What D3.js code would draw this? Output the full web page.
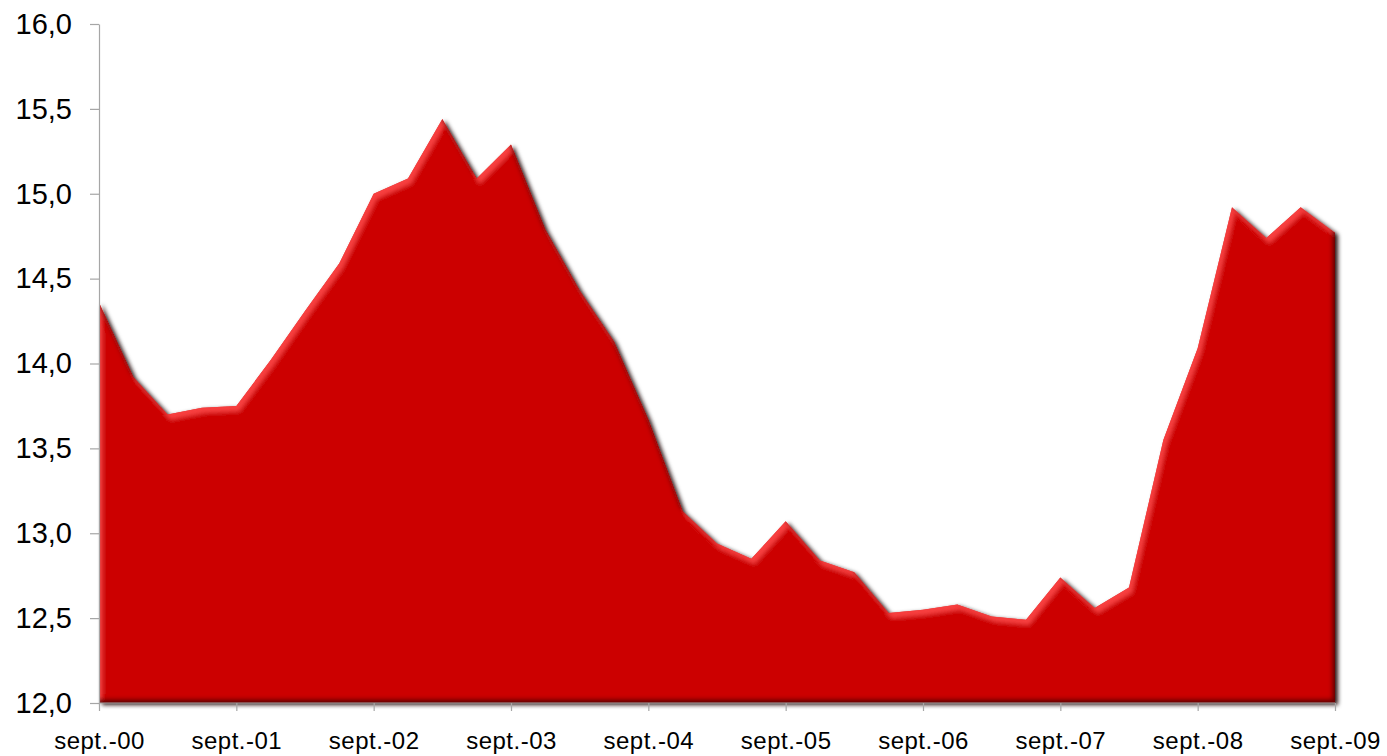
<!DOCTYPE html>
<html lang="fr">
<head>
  <meta charset="UTF-8">
  <title>Area chart</title>
  <style>
    body { margin: 0; background: #fff; }
    svg { display: block; }
    .axis text { font-family: "Liberation Sans", Arial, sans-serif; fill: #000; }
    .axis path, .axis line { stroke: #a6a6a6; stroke-width: 1.2; }
  </style>
</head>
<body>

  <section class="plot"></section>

  <script src="https://cdn.jsdelivr.net/npm/d3@7"></script>
  <script>
    // Data (quarterly)
    const quarters = [
      "sept.-00", "déc.-00", "mars-01", "juin-01",
      "sept.-01", "déc.-01", "mars-02", "juin-02",
      "sept.-02", "déc.-02", "mars-03", "juin-03",
      "sept.-03", "déc.-03", "mars-04", "juin-04",
      "sept.-04", "déc.-04", "mars-05", "juin-05",
      "sept.-05", "déc.-05", "mars-06", "juin-06",
      "sept.-06", "déc.-06", "mars-07", "juin-07",
      "sept.-07", "déc.-07", "mars-08", "juin-08",
      "sept.-08", "déc.-08", "mars-09", "juin-09",
      "sept.-09"
    ];
    const values = [
      14.36, 13.92, 13.70, 13.74,
      13.75, 14.02, 14.31, 14.59,
      15.00, 15.09, 15.44, 15.09,
      15.29, 14.79, 14.43, 14.13,
      13.67, 13.13, 12.94, 12.85,
      13.07, 12.84, 12.77, 12.53,
      12.55, 12.58, 12.51, 12.49,
      12.74, 12.56, 12.68, 13.55,
      14.09, 14.92, 14.74, 14.92,
      14.77
    ];
    const xTickLabels = ["sept.-00", "sept.-01", "sept.-02", "sept.-03", "sept.-04",
                         "sept.-05", "sept.-06", "sept.-07", "sept.-08", "sept.-09"];
    const yTicks = [12.0, 12.5, 13.0, 13.5, 14.0, 14.5, 15.0, 15.5, 16.0];

    const data = quarters.map((q, i) => ({ label: q, value: values[i] }));

    const _size = { width: 1387, height: 756 };
    const _margin = { left: 99, top: 24, right: 52, bottom: 53 };
    const innerW = _size.width - _margin.left - _margin.right;
    const innerH = _size.height - _margin.top - _margin.bottom;

    const svg = d3.select(".plot")
      .append("svg")
        .attr("width", _size.width)
        .attr("height", _size.height);

    // bevel filter (light from upper left)
    const defs = svg.append("defs");
    const f = defs.append("filter").attr("id", "bevel")
      .attr("x", "-2%").attr("y", "-5%").attr("width", "104%").attr("height", "110%");
    f.append("feGaussianBlur").attr("in", "SourceAlpha").attr("stdDeviation", 2).attr("result", "blur");
    // outer shadow
    f.append("feOffset").attr("in", "blur").attr("dx", 2.5).attr("dy", 1.5).attr("result", "dropOff");
    f.append("feFlood").attr("flood-color", "#1a0000").attr("flood-opacity", 0.9).attr("result", "dropCol");
    f.append("feComposite").attr("in", "dropCol").attr("in2", "dropOff").attr("operator", "in").attr("result", "drop");
    // highlight band along top-left facing edges
    f.append("feOffset").attr("in", "blur").attr("dx", 3).attr("dy", 5).attr("result", "bDown");
    f.append("feComposite").attr("in", "SourceAlpha").attr("in2", "bDown")
      .attr("operator", "arithmetic").attr("k1", 0).attr("k2", 1).attr("k3", -1).attr("k4", 0).attr("result", "hiMask");
    f.append("feFlood").attr("flood-color", "#ff4545").attr("flood-opacity", 0.85).attr("result", "hiCol");
    f.append("feComposite").attr("in", "hiCol").attr("in2", "hiMask").attr("operator", "in").attr("result", "hi");
    // shadow band along bottom-right facing edges
    f.append("feOffset").attr("in", "blur").attr("dx", -3).attr("dy", -4).attr("result", "bUp");
    f.append("feComposite").attr("in", "SourceAlpha").attr("in2", "bUp")
      .attr("operator", "arithmetic").attr("k1", 0).attr("k2", 1).attr("k3", -1).attr("k4", 0).attr("result", "shMask");
    f.append("feFlood").attr("flood-color", "#3a0000").attr("flood-opacity", 0.85).attr("result", "shCol");
    f.append("feComposite").attr("in", "shCol").attr("in2", "shMask").attr("operator", "in").attr("result", "sh");
    const merge = f.append("feMerge");
    ["drop", "SourceGraphic", "hi", "sh"].forEach(n => merge.append("feMergeNode").attr("in", n));

    const g = svg.append("g")
      .attr("transform", `translate(${_margin.left},${_margin.top})`);

    const x = d3.scalePoint()
      .domain(quarters)
      .range([0, innerW])
      .padding(0);

    const y = d3.scaleLinear()
      .domain([12, 16])
      .range([innerH, 0]);

    const area = d3.area()
      .x(d => x(d.label))
      .y0(innerH)
      .y1(d => y(d.value));

    g.append("path")
      .datum(data)
      .attr("d", area)
      .attr("fill", "#cc0606")
      .attr("filter", "url(#bevel)");

    // axes
    const fmt = d => d3.format(".1f")(d).replace(".", ",");

    const yAxis = g.append("g")
      .attr("class", "axis")
      .call(d3.axisLeft(y).tickValues(yTicks).tickFormat(fmt).tickSize(9).tickPadding(18).tickSizeOuter(0));
    yAxis.selectAll("text").attr("font-size", 29);

    const xAxis = g.append("g")
      .attr("class", "axis")
      .attr("transform", `translate(0,${innerH})`)
      .call(d3.axisBottom(x).tickValues(xTickLabels).tickSize(8).tickPadding(21).tickSizeOuter(0));
    xAxis.selectAll("text").attr("font-size", 24).style("letter-spacing", "0.5px");
    xAxis.select(".domain").remove();
    xAxis.append("line")
      .attr("x1", 0).attr("x2", innerW)
      .attr("stroke", "#a6a6a6").attr("stroke-width", 1.2);
  </script>
</body>
</html>
